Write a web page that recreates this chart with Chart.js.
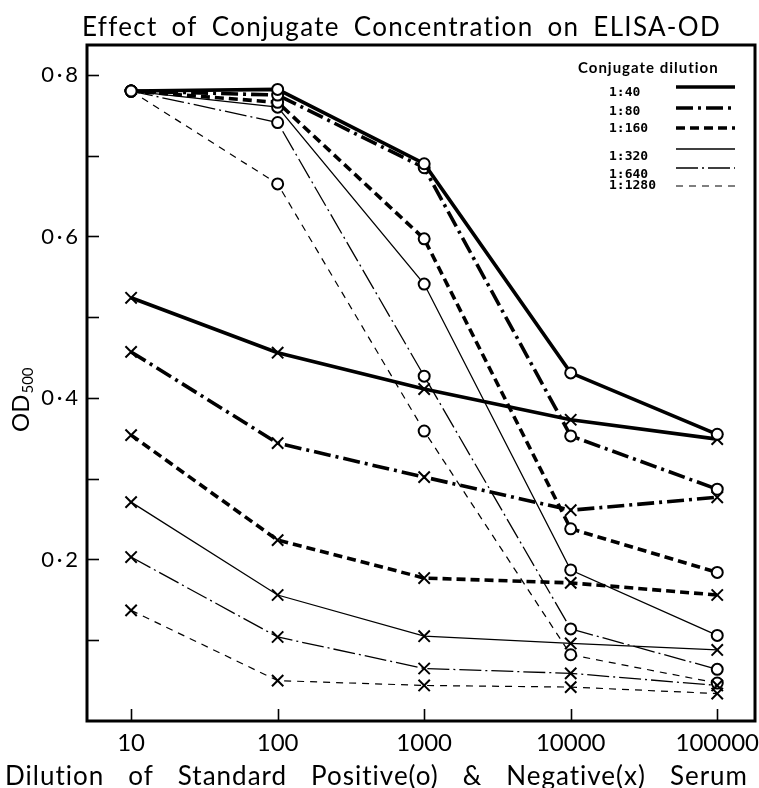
<!DOCTYPE html>
<html><head><meta charset="utf-8">
<script src="https://cdn.jsdelivr.net/npm/chart.js@4.4.1/dist/chart.umd.min.js"></script>
<style>html,body{margin:0;padding:0;background:#fff}</style>
</head><body>
<canvas id="c" width="759" height="788"></canvas>
<script>
// ---------- data ----------
const dilutions = [10, 100, 1000, 10000, 100000];
const xTickValues = [10, 100, 1000, 10000, 100000];
const yTickValues = [0.1, 0.2, 0.3, 0.4, 0.5, 0.6, 0.7, 0.8];
const yLabelValues = [0.2, 0.4, 0.6, 0.8];
const conjugates = ['1:40', '1:80', '1:160', '1:320', '1:640', '1:1280'];

// Standard positive serum (o)
const pos_1_40   = [0.780, 0.782, 0.690, 0.431, 0.355];
const pos_1_80   = [0.780, 0.775, 0.685, 0.353, 0.287];
const pos_1_160  = [0.780, 0.766, 0.597, 0.238, 0.184];
const pos_1_320  = [0.780, 0.760, 0.541, 0.187, 0.106];
const pos_1_640  = [0.780, 0.741, 0.427, 0.114, 0.064];
const pos_1_1280 = [0.780, 0.665, 0.359, 0.082, 0.047];
// Negative serum (x)
const neg_1_40   = [0.524, 0.456, 0.411, 0.373, 0.349];
const neg_1_80   = [0.457, 0.344, 0.302, 0.261, 0.277];
const neg_1_160  = [0.354, 0.224, 0.177, 0.171, 0.156];
const neg_1_320  = [0.271, 0.156, 0.105, 0.096, 0.088];
const neg_1_640  = [0.203, 0.104, 0.065, 0.059, 0.044];
const neg_1_1280 = [0.137, 0.050, 0.044, 0.042, 0.034];

const positives = [pos_1_40, pos_1_80, pos_1_160, pos_1_320, pos_1_640, pos_1_1280];
const negatives = [neg_1_40, neg_1_80, neg_1_160, neg_1_320, neg_1_640, neg_1_1280];

// ---------- styles ----------
const lineStyles = [
  {w: 3.6, dash: []},
  {w: 3.6, dash: [17, 5, 3, 5]},
  {w: 3.6, dash: [9, 5]},
  {w: 1.3, dash: []},
  {w: 1.3, dash: [22, 4, 2, 4]},
  {w: 1.2, dash: [7, 6]}
];
const FAMILY = 'Lato, "Open Sans", sans-serif';

const datasets = [];
conjugates.forEach((c, i) => {
  const st = lineStyles[i];
  datasets.push({
    label: c + ' positive',
    data: dilutions.map((d, k) => ({x: d, y: positives[i][k]})),
    borderColor: '#000', borderWidth: st.w, borderDash: st.dash,
    pointStyle: 'circle', pointRadius: 5.5, pointBorderWidth: 2,
    pointBorderColor: '#000', pointBackgroundColor: '#fff',
    tension: 0, fill: false
  });
  datasets.push({
    label: c + ' negative',
    data: dilutions.map((d, k) => ({x: d, y: negatives[i][k]})),
    borderColor: '#000', borderWidth: st.w, borderDash: st.dash,
    pointStyle: 'crossRot', pointRadius: 8, pointBorderWidth: 2,
    pointBorderColor: '#000', pointBackgroundColor: '#fff',
    tension: 0, fill: false
  });
});

function drawSpaced(ctx, text, x, y, size, weight, letter, target) {
  ctx.font = weight + ' ' + size + 'px ' + FAMILY;
  const hasLS = 'letterSpacing' in ctx;
  const hasWS = 'wordSpacing' in ctx;
  if (hasLS) ctx.letterSpacing = letter + 'px';
  const spaces = (text.match(/ /g) || []).length;
  if (hasWS && spaces > 0 && target > 0) {
    ctx.wordSpacing = '0px';
    const w = ctx.measureText(text).width;
    ctx.wordSpacing = Math.max(0, (target - w) / spaces) + 'px';
  }
  ctx.fillText(text, x, y);
  if (hasWS) ctx.wordSpacing = '0px';
  if (hasLS) ctx.letterSpacing = '0px';
}

const decoPlugin = {
  id: 'deco',
  afterDatasetsDraw(chart) {
    const {ctx, chartArea: a, scales: {x, y}} = chart;
    ctx.save();
    ctx.setLineDash([]);
    ctx.strokeStyle = '#000';
    ctx.lineWidth = 1.6;
    yTickValues.forEach(v => {
      const py = Math.round(y.getPixelForValue(v)) + 0.5;
      ctx.beginPath(); ctx.moveTo(a.left, py); ctx.lineTo(a.left + 12, py); ctx.stroke();
    });
    xTickValues.forEach(v => {
      const px = Math.round(x.getPixelForValue(v)) + 0.5;
      ctx.beginPath(); ctx.moveTo(px, a.bottom); ctx.lineTo(px, a.bottom - 12); ctx.stroke();
    });
    ctx.lineWidth = 3;
    ctx.strokeRect(a.left, a.top, a.right - a.left, a.bottom - a.top);
    ctx.restore();
  },
  afterDraw(chart) {
    const {ctx} = chart;
    ctx.save();
    ctx.fillStyle = '#000';
    ctx.strokeStyle = '#000';
    ctx.textBaseline = 'alphabetic';
    ctx.textAlign = 'left';
    drawSpaced(ctx, 'Effect of Conjugate Concentration on ELISA-OD', 82, 36, 26, 'normal', 1.3, 639);
    drawSpaced(ctx, 'Dilution of Standard Positive(o) & Negative(x) Serum', 5, 785, 26, 'normal', 1.0, 743);
    // y-axis title OD500
    ctx.save();
    ctx.translate(29, 432);
    ctx.rotate(-Math.PI / 2);
    ctx.font = 'normal 24px ' + FAMILY;
    ctx.fillText('OD', 0, 0);
    const wOD = ctx.measureText('OD').width;
    ctx.font = 'normal 15px ' + FAMILY;
    ctx.fillText('500', wOD + 1, 4);
    ctx.restore();
    // legend
    ctx.textBaseline = 'middle';
    drawSpaced(ctx, 'Conjugate dilution', 578, 68, 15, 'bold', 1.0, 0);
    const labelY = [93, 112, 129, 157, 175, 186];
    const lineY = [87, 108, 128, 149, 168, 186];
    ctx.font = 'bold 13px "DejaVu Sans Mono", monospace';
    conjugates.forEach((c, i) => {
      ctx.fillText(c, 609, labelY[i]);
      const st = lineStyles[i];
      ctx.lineWidth = st.w;
      ctx.setLineDash(st.dash);
      ctx.beginPath(); ctx.moveTo(676, lineY[i]); ctx.lineTo(735, lineY[i]); ctx.stroke();
    });
    ctx.restore();
  }
};

new Chart(document.getElementById('c'), {
  type: 'line',
  data: {datasets},
  plugins: [decoPlugin],
  options: {
    responsive: false,
    animation: false,
    events: [],
    layout: {autoPadding: false, padding: {top: 45, right: 4, left: 0, bottom: 0}},
    plugins: {legend: {display: false}, tooltip: {enabled: false}, title: {display: false}},
    scales: {
      x: {
        type: 'logarithmic', min: 5, max: 181000,
        afterBuildTicks: s => { s.ticks = xTickValues.map(v => ({value: v})); },
        afterFit: s => { s.height = 67; s.paddingLeft = 0; s.paddingRight = 0; },
        grid: {display: false, drawTicks: false},
        border: {display: false},
        ticks: {
          autoSkip: false, maxRotation: 0, padding: 8, color: '#000',
          font: {family: FAMILY, size: 24},
          callback: v => String(v)
        }
      },
      y: {
        type: 'linear', min: 0, max: 0.837,
        afterBuildTicks: s => { s.ticks = yTickValues.map(v => ({value: v})); },
        afterFit: s => { s.width = 87; s.paddingTop = 0; s.paddingBottom = 0; },
        grid: {display: false, drawTicks: false},
        border: {display: false},
        ticks: {
          padding: 9, color: '#000',
          font: {family: FAMILY, size: 22},
          callback: v => yLabelValues.some(t => Math.abs(t - v) < 1e-6) ? v.toFixed(1).replace('.', '\u2009·\u2009') : ''
        }
      }
    }
  }
});
</script>
</body></html>
